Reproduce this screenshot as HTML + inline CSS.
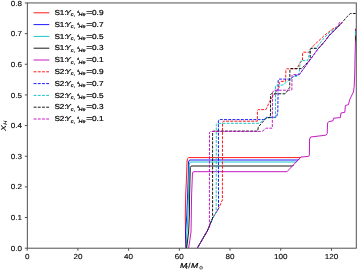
<!DOCTYPE html>
<html><head><meta charset="utf-8"><style>
html,body{margin:0;padding:0;background:#fff;width:357px;height:270px;overflow:hidden}
svg{display:block;will-change:transform}
.t{text-rendering:geometricPrecision;font-family:"Liberation Sans",sans-serif;font-size:7.3px;fill:#000}
</style></head><body>
<svg width="357" height="270" viewBox="0 0 357 270">
<defs><clipPath id="ax"><rect x="27.35" y="2.95" width="328.95" height="245.25"/></clipPath></defs>
<g clip-path="url(#ax)" fill="none" stroke-width="0.9" stroke-linejoin="round" stroke-linecap="butt">
<polyline stroke="#ff0000" points="186.0,248.5 185.5,235.0 185.3,215.0 185.7,195.0 186.6,175.0 187.0,162.0 187.5,158.6 188.6,157.6 300.6,157.6 301.6,156.6"/>
<polyline stroke="#0000ff" points="186.0,248.5 185.6,232.0 186.8,215.0 187.6,195.0 188.3,175.0 188.5,162.0 189.3,160.2 190.0,160.0 298.3,160.0 299.3,159.0"/>
<polyline stroke="#00bfbf" points="186.2,248.5 187.0,232.0 187.9,215.0 188.5,195.0 189.2,175.0 189.3,164.0 190.0,162.2 190.8,162.0 296.3,162.0 297.3,161.0"/>
<polyline stroke="#000000" points="186.6,248.5 188.6,232.0 189.4,215.0 189.6,195.0 190.1,175.0 190.3,167.5 191.0,166.2 191.8,166.0 292.5,166.0 293.5,165.0"/>
<polyline stroke="#bf00bf" points="188.6,248.5 191.0,232.0 191.3,215.0 191.6,195.0 192.4,175.0 192.5,173.0 193.2,171.9 194.0,171.7 287.0,171.7 300.3,157.6 301.5,157.0 308.5,156.4 309.4,155.0 309.6,139.0 310.6,137.0 325.8,135.2 327.2,133.5 327.6,123.0 328.8,121.6 333.0,120.8 333.5,118.2 340.4,117.6 341.0,113.0 344.8,112.3 345.4,105.5 348.5,104.6 349.7,99.6 353.4,92.0 354.2,86.5 354.7,75.0 355.1,55.0 355.4,45.0 355.5,40.8"/>
<line x1="355.45" y1="28.5" x2="355.45" y2="30.0" stroke="#ff0000"/>
<line x1="355.45" y1="30.0" x2="355.45" y2="31.4" stroke="#0000ff"/>
<line x1="355.45" y1="31.4" x2="355.45" y2="35.4" stroke="#00bfbf"/>
<line x1="355.45" y1="35.4" x2="355.45" y2="40.9" stroke="#000000"/>
<polyline stroke="#ff0000" stroke-dasharray="2.9 1.3" stroke-dashoffset="2.0" points="197.1,248.5 207.8,230.0 209.4,226.0 212.6,218.2 216.2,212.4 218.5,208.6 222.4,200.0 222.5,122.5 223.3,121.2 257.4,121.2 257.4,110.5 258.2,109.6 265.9,109.6 270.4,100.0 279.0,87.5 279.4,82.3 280.3,81.3 285.6,81.3 285.9,70.0 286.7,68.8 297.0,68.8 299.0,64.5 302.5,60.0 302.6,53.0 303.4,52.2 309.3,52.2 310.2,49.5 312.7,46.7 313.2,46.0 323.6,36.2 331.1,30.0 334.5,27.8 338.2,26.3 340.5,24.2"/>
<polyline stroke="#0000ff" stroke-dasharray="2.9 1.3" stroke-dashoffset="3.4" points="197.1,248.5 207.8,230.0 209.4,226.0 212.6,218.2 216.2,212.4 218.5,208.6 218.4,121.0 219.3,119.6 265.0,119.6 266.5,117.3 276.5,117.3 277.8,112.0 278.2,80.0 279.0,79.1 290.7,79.1 294.0,76.2 298.0,74.8 299.3,74.6 302.7,70.0 317.3,49.8 325.3,40.7 328.9,35.8 336.0,28.7 338.2,26.3 340.5,24.2"/>
<polyline stroke="#00bfbf" stroke-dasharray="2.9 1.3" stroke-dashoffset="3.0" points="197.1,248.5 207.8,230.0 209.4,226.0 212.6,218.2 216.2,212.4 216.3,124.5 217.2,123.3 259.8,123.3 265.8,117.7 275.5,117.7 275.6,86.0 276.4,85.1 283.0,85.0 291.1,78.3 294.0,76.2 297.7,76.2 299.3,72.2 300.0,64.0 300.3,61.4 301.0,60.6 307.7,60.6 310.4,49.2 311.2,48.3 316.6,48.3 317.3,46.5 320.9,42.0 328.0,33.6 333.3,29.6 338.2,26.3 340.5,24.2"/>
<polyline stroke="#000000" stroke-dasharray="2.9 1.3" stroke-dashoffset="1.2" points="197.1,248.5 207.8,230.0 209.4,226.0 212.6,218.2 212.6,132.5 213.4,131.1 257.7,131.1 258.3,127.0 265.4,118.9 267.2,117.6 270.4,117.6 270.6,94.6 271.3,93.8 285.3,93.8 289.7,87.5 289.9,69.4 290.6,68.6 301.6,68.6 309.3,60.6 310.2,59.0 310.3,49.2 311.1,48.3 318.6,48.3 325.3,40.7 328.9,35.8 336.0,28.7 338.2,26.3 339.3,25.8 347.3,16.4 350.4,13.5 357.0,13.5"/>
<polyline stroke="#bf00bf" stroke-dasharray="2.9 1.3" stroke-dashoffset="0.0" points="197.1,248.5 207.8,230.0 209.4,226.0 209.5,132.5 210.5,131.4 262.1,131.4 266.2,128.2 272.3,128.2 272.5,92.5 274.0,90.2 291.5,90.2 291.9,89.0 292.0,75.6 292.7,74.6 299.3,74.6 302.7,70.0 317.3,49.8 325.3,40.7 328.9,35.8 336.0,28.7 338.2,26.3 342.4,22.2"/>
<line x1="338.3" y1="24.6" x2="339.9" y2="22.1" stroke="#bf00bf" stroke-width="0.9"/>
</g>
<rect x="27.35" y="2.95" width="328.95" height="245.25" fill="none" stroke="#505050" stroke-width="1.0"/>
<path d="M24.85 248.20H27.35 M24.85 217.54H27.35 M24.85 186.89H27.35 M24.85 156.23H27.35 M24.85 125.57H27.35 M24.85 94.92H27.35 M24.85 64.26H27.35 M24.85 33.61H27.35 M24.85 2.95H27.35 M27.20 248.2V250.75 M77.91 248.2V250.75 M128.62 248.2V250.75 M179.33 248.2V250.75 M230.04 248.2V250.75 M280.75 248.2V250.75 M331.46 248.2V250.75" stroke="#505050" stroke-width="1.0" fill="none"/>
<text transform="translate(21.90,250.80) scale(1.11,1)" text-anchor="end" class="t" stroke="#000" stroke-width="0.1">0.0</text>
<text transform="translate(21.90,220.14) scale(1.11,1)" text-anchor="end" class="t" stroke="#000" stroke-width="0.1">0.1</text>
<text transform="translate(21.90,189.49) scale(1.11,1)" text-anchor="end" class="t" stroke="#000" stroke-width="0.1">0.2</text>
<text transform="translate(21.90,158.83) scale(1.11,1)" text-anchor="end" class="t" stroke="#000" stroke-width="0.1">0.3</text>
<text transform="translate(21.90,128.17) scale(1.11,1)" text-anchor="end" class="t" stroke="#000" stroke-width="0.1">0.4</text>
<text transform="translate(21.90,97.52) scale(1.11,1)" text-anchor="end" class="t" stroke="#000" stroke-width="0.1">0.5</text>
<text transform="translate(21.90,66.86) scale(1.11,1)" text-anchor="end" class="t" stroke="#000" stroke-width="0.1">0.6</text>
<text transform="translate(21.90,36.21) scale(1.11,1)" text-anchor="end" class="t" stroke="#000" stroke-width="0.1">0.7</text>
<text transform="translate(21.90,5.55) scale(1.11,1)" text-anchor="end" class="t" stroke="#000" stroke-width="0.1">0.8</text>
<text transform="translate(27.20,259.00) scale(1.11,1)" text-anchor="middle" class="t" stroke="#000" stroke-width="0.1">0</text>
<text transform="translate(77.91,259.00) scale(1.11,1)" text-anchor="middle" class="t" stroke="#000" stroke-width="0.1">20</text>
<text transform="translate(128.62,259.00) scale(1.11,1)" text-anchor="middle" class="t" stroke="#000" stroke-width="0.1">40</text>
<text transform="translate(179.33,259.00) scale(1.11,1)" text-anchor="middle" class="t" stroke="#000" stroke-width="0.1">60</text>
<text transform="translate(230.04,259.00) scale(1.11,1)" text-anchor="middle" class="t" stroke="#000" stroke-width="0.1">80</text>
<text transform="translate(280.75,259.00) scale(1.11,1)" text-anchor="middle" class="t" stroke="#000" stroke-width="0.1">100</text>
<text transform="translate(331.46,259.00) scale(1.11,1)" text-anchor="middle" class="t" stroke="#000" stroke-width="0.1">120</text>
<text transform="translate(179.90,268.00) scale(1.18,1)" text-anchor="start" class="t" stroke="#000" stroke-width="0.2" font-style="italic">M</text>
<text transform="translate(186.00,269.30) scale(1.12,1)" text-anchor="start" class="t" stroke="#000" stroke-width="0.15" font-style="italic" style="font-size:4.9px">t</text>
<text transform="translate(188.30,268.00) scale(1.12,1)" text-anchor="start" class="t" stroke="#000" stroke-width="0.15">/</text>
<text transform="translate(190.90,268.00) scale(1.18,1)" text-anchor="start" class="t" stroke="#000" stroke-width="0.2" font-style="italic">M</text>
<circle cx="201.1" cy="267.7" r="1.45" fill="none" stroke="#000" stroke-width="0.55"/><circle cx="201.1" cy="267.7" r="0.4" fill="#000"/>
<g transform="translate(6.0,131.0) rotate(-90)"><text transform="translate(0.00,0.00) scale(1.22,1)" text-anchor="start" class="t" stroke="#000" stroke-width="0.1" font-style="italic">X</text><text transform="translate(6.30,1.40) scale(1.12,1)" text-anchor="start" class="t" stroke="#000" stroke-width="0.1" font-style="italic" style="font-size:4.9px">H</text></g>
<line x1="33.6" y1="12.80" x2="49.3" y2="12.80" stroke="#ff0000" stroke-width="0.9"/>
<text transform="translate(54.40,15.00) scale(1.12,1)" text-anchor="start" class="t" stroke="#000" stroke-width="0.2">S1:</text>
<text transform="translate(65.20,15.00) scale(1.15,1)" text-anchor="start" class="t" stroke="#000" stroke-width="0.2" font-style="italic">Y</text>
<text transform="translate(70.70,16.30) scale(1.12,1)" text-anchor="start" class="t" stroke="#000" stroke-width="0.2" font-style="italic" style="font-size:4.9px">c</text>
<text transform="translate(73.40,16.30) scale(1.12,1)" text-anchor="start" class="t" stroke="#000" stroke-width="0.2" style="font-size:4.9px">,</text>
<text transform="translate(76.90,13.10) scale(1.12,1)" text-anchor="start" class="t" stroke="#000" stroke-width="0.2" style="font-size:3.4px">4</text>
<text transform="translate(78.60,16.30) scale(1.12,1)" text-anchor="start" class="t" stroke="#000" stroke-width="0.2" font-style="italic" style="font-size:4.9px">He</text>
<text transform="translate(86.30,15.00) scale(1.4,1)" text-anchor="start" class="t" stroke="#000" stroke-width="0.2">=</text>
<text transform="translate(92.00,15.00) scale(1.13,1)" text-anchor="start" class="t" stroke="#000" stroke-width="0.2">0.9</text>
<line x1="33.6" y1="24.60" x2="49.3" y2="24.60" stroke="#0000ff" stroke-width="0.9"/>
<text transform="translate(54.40,26.80) scale(1.12,1)" text-anchor="start" class="t" stroke="#000" stroke-width="0.2">S1:</text>
<text transform="translate(65.20,26.80) scale(1.15,1)" text-anchor="start" class="t" stroke="#000" stroke-width="0.2" font-style="italic">Y</text>
<text transform="translate(70.70,28.10) scale(1.12,1)" text-anchor="start" class="t" stroke="#000" stroke-width="0.2" font-style="italic" style="font-size:4.9px">c</text>
<text transform="translate(73.40,28.10) scale(1.12,1)" text-anchor="start" class="t" stroke="#000" stroke-width="0.2" style="font-size:4.9px">,</text>
<text transform="translate(76.90,24.90) scale(1.12,1)" text-anchor="start" class="t" stroke="#000" stroke-width="0.2" style="font-size:3.4px">4</text>
<text transform="translate(78.60,28.10) scale(1.12,1)" text-anchor="start" class="t" stroke="#000" stroke-width="0.2" font-style="italic" style="font-size:4.9px">He</text>
<text transform="translate(86.30,26.80) scale(1.4,1)" text-anchor="start" class="t" stroke="#000" stroke-width="0.2">=</text>
<text transform="translate(92.00,26.80) scale(1.13,1)" text-anchor="start" class="t" stroke="#000" stroke-width="0.2">0.7</text>
<line x1="33.6" y1="36.40" x2="49.3" y2="36.40" stroke="#00bfbf" stroke-width="0.9"/>
<text transform="translate(54.40,38.60) scale(1.12,1)" text-anchor="start" class="t" stroke="#000" stroke-width="0.2">S1:</text>
<text transform="translate(65.20,38.60) scale(1.15,1)" text-anchor="start" class="t" stroke="#000" stroke-width="0.2" font-style="italic">Y</text>
<text transform="translate(70.70,39.90) scale(1.12,1)" text-anchor="start" class="t" stroke="#000" stroke-width="0.2" font-style="italic" style="font-size:4.9px">c</text>
<text transform="translate(73.40,39.90) scale(1.12,1)" text-anchor="start" class="t" stroke="#000" stroke-width="0.2" style="font-size:4.9px">,</text>
<text transform="translate(76.90,36.70) scale(1.12,1)" text-anchor="start" class="t" stroke="#000" stroke-width="0.2" style="font-size:3.4px">4</text>
<text transform="translate(78.60,39.90) scale(1.12,1)" text-anchor="start" class="t" stroke="#000" stroke-width="0.2" font-style="italic" style="font-size:4.9px">He</text>
<text transform="translate(86.30,38.60) scale(1.4,1)" text-anchor="start" class="t" stroke="#000" stroke-width="0.2">=</text>
<text transform="translate(92.00,38.60) scale(1.13,1)" text-anchor="start" class="t" stroke="#000" stroke-width="0.2">0.5</text>
<line x1="33.6" y1="48.20" x2="49.3" y2="48.20" stroke="#000000" stroke-width="0.9"/>
<text transform="translate(54.40,50.40) scale(1.12,1)" text-anchor="start" class="t" stroke="#000" stroke-width="0.2">S1:</text>
<text transform="translate(65.20,50.40) scale(1.15,1)" text-anchor="start" class="t" stroke="#000" stroke-width="0.2" font-style="italic">Y</text>
<text transform="translate(70.70,51.70) scale(1.12,1)" text-anchor="start" class="t" stroke="#000" stroke-width="0.2" font-style="italic" style="font-size:4.9px">c</text>
<text transform="translate(73.40,51.70) scale(1.12,1)" text-anchor="start" class="t" stroke="#000" stroke-width="0.2" style="font-size:4.9px">,</text>
<text transform="translate(76.90,48.50) scale(1.12,1)" text-anchor="start" class="t" stroke="#000" stroke-width="0.2" style="font-size:3.4px">4</text>
<text transform="translate(78.60,51.70) scale(1.12,1)" text-anchor="start" class="t" stroke="#000" stroke-width="0.2" font-style="italic" style="font-size:4.9px">He</text>
<text transform="translate(86.30,50.40) scale(1.4,1)" text-anchor="start" class="t" stroke="#000" stroke-width="0.2">=</text>
<text transform="translate(92.00,50.40) scale(1.13,1)" text-anchor="start" class="t" stroke="#000" stroke-width="0.2">0.3</text>
<line x1="33.6" y1="60.00" x2="49.3" y2="60.00" stroke="#bf00bf" stroke-width="0.9"/>
<text transform="translate(54.40,62.20) scale(1.12,1)" text-anchor="start" class="t" stroke="#000" stroke-width="0.2">S1:</text>
<text transform="translate(65.20,62.20) scale(1.15,1)" text-anchor="start" class="t" stroke="#000" stroke-width="0.2" font-style="italic">Y</text>
<text transform="translate(70.70,63.50) scale(1.12,1)" text-anchor="start" class="t" stroke="#000" stroke-width="0.2" font-style="italic" style="font-size:4.9px">c</text>
<text transform="translate(73.40,63.50) scale(1.12,1)" text-anchor="start" class="t" stroke="#000" stroke-width="0.2" style="font-size:4.9px">,</text>
<text transform="translate(76.90,60.30) scale(1.12,1)" text-anchor="start" class="t" stroke="#000" stroke-width="0.2" style="font-size:3.4px">4</text>
<text transform="translate(78.60,63.50) scale(1.12,1)" text-anchor="start" class="t" stroke="#000" stroke-width="0.2" font-style="italic" style="font-size:4.9px">He</text>
<text transform="translate(86.30,62.20) scale(1.4,1)" text-anchor="start" class="t" stroke="#000" stroke-width="0.2">=</text>
<text transform="translate(92.00,62.20) scale(1.13,1)" text-anchor="start" class="t" stroke="#000" stroke-width="0.2">0.1</text>
<line x1="33.6" y1="71.80" x2="49.3" y2="71.80" stroke="#ff0000" stroke-width="0.9" stroke-dasharray="2.9 1.3"/>
<text transform="translate(54.40,74.00) scale(1.12,1)" text-anchor="start" class="t" stroke="#000" stroke-width="0.2">S2:</text>
<text transform="translate(65.20,74.00) scale(1.15,1)" text-anchor="start" class="t" stroke="#000" stroke-width="0.2" font-style="italic">Y</text>
<text transform="translate(70.70,75.30) scale(1.12,1)" text-anchor="start" class="t" stroke="#000" stroke-width="0.2" font-style="italic" style="font-size:4.9px">c</text>
<text transform="translate(73.40,75.30) scale(1.12,1)" text-anchor="start" class="t" stroke="#000" stroke-width="0.2" style="font-size:4.9px">,</text>
<text transform="translate(76.90,72.10) scale(1.12,1)" text-anchor="start" class="t" stroke="#000" stroke-width="0.2" style="font-size:3.4px">4</text>
<text transform="translate(78.60,75.30) scale(1.12,1)" text-anchor="start" class="t" stroke="#000" stroke-width="0.2" font-style="italic" style="font-size:4.9px">He</text>
<text transform="translate(86.30,74.00) scale(1.4,1)" text-anchor="start" class="t" stroke="#000" stroke-width="0.2">=</text>
<text transform="translate(92.00,74.00) scale(1.13,1)" text-anchor="start" class="t" stroke="#000" stroke-width="0.2">0.9</text>
<line x1="33.6" y1="83.60" x2="49.3" y2="83.60" stroke="#0000ff" stroke-width="0.9" stroke-dasharray="2.9 1.3"/>
<text transform="translate(54.40,85.80) scale(1.12,1)" text-anchor="start" class="t" stroke="#000" stroke-width="0.2">S2:</text>
<text transform="translate(65.20,85.80) scale(1.15,1)" text-anchor="start" class="t" stroke="#000" stroke-width="0.2" font-style="italic">Y</text>
<text transform="translate(70.70,87.10) scale(1.12,1)" text-anchor="start" class="t" stroke="#000" stroke-width="0.2" font-style="italic" style="font-size:4.9px">c</text>
<text transform="translate(73.40,87.10) scale(1.12,1)" text-anchor="start" class="t" stroke="#000" stroke-width="0.2" style="font-size:4.9px">,</text>
<text transform="translate(76.90,83.90) scale(1.12,1)" text-anchor="start" class="t" stroke="#000" stroke-width="0.2" style="font-size:3.4px">4</text>
<text transform="translate(78.60,87.10) scale(1.12,1)" text-anchor="start" class="t" stroke="#000" stroke-width="0.2" font-style="italic" style="font-size:4.9px">He</text>
<text transform="translate(86.30,85.80) scale(1.4,1)" text-anchor="start" class="t" stroke="#000" stroke-width="0.2">=</text>
<text transform="translate(92.00,85.80) scale(1.13,1)" text-anchor="start" class="t" stroke="#000" stroke-width="0.2">0.7</text>
<line x1="33.6" y1="95.40" x2="49.3" y2="95.40" stroke="#00bfbf" stroke-width="0.9" stroke-dasharray="2.9 1.3"/>
<text transform="translate(54.40,97.60) scale(1.12,1)" text-anchor="start" class="t" stroke="#000" stroke-width="0.2">S2:</text>
<text transform="translate(65.20,97.60) scale(1.15,1)" text-anchor="start" class="t" stroke="#000" stroke-width="0.2" font-style="italic">Y</text>
<text transform="translate(70.70,98.90) scale(1.12,1)" text-anchor="start" class="t" stroke="#000" stroke-width="0.2" font-style="italic" style="font-size:4.9px">c</text>
<text transform="translate(73.40,98.90) scale(1.12,1)" text-anchor="start" class="t" stroke="#000" stroke-width="0.2" style="font-size:4.9px">,</text>
<text transform="translate(76.90,95.70) scale(1.12,1)" text-anchor="start" class="t" stroke="#000" stroke-width="0.2" style="font-size:3.4px">4</text>
<text transform="translate(78.60,98.90) scale(1.12,1)" text-anchor="start" class="t" stroke="#000" stroke-width="0.2" font-style="italic" style="font-size:4.9px">He</text>
<text transform="translate(86.30,97.60) scale(1.4,1)" text-anchor="start" class="t" stroke="#000" stroke-width="0.2">=</text>
<text transform="translate(92.00,97.60) scale(1.13,1)" text-anchor="start" class="t" stroke="#000" stroke-width="0.2">0.5</text>
<line x1="33.6" y1="107.20" x2="49.3" y2="107.20" stroke="#000000" stroke-width="0.9" stroke-dasharray="2.9 1.3"/>
<text transform="translate(54.40,109.40) scale(1.12,1)" text-anchor="start" class="t" stroke="#000" stroke-width="0.2">S2:</text>
<text transform="translate(65.20,109.40) scale(1.15,1)" text-anchor="start" class="t" stroke="#000" stroke-width="0.2" font-style="italic">Y</text>
<text transform="translate(70.70,110.70) scale(1.12,1)" text-anchor="start" class="t" stroke="#000" stroke-width="0.2" font-style="italic" style="font-size:4.9px">c</text>
<text transform="translate(73.40,110.70) scale(1.12,1)" text-anchor="start" class="t" stroke="#000" stroke-width="0.2" style="font-size:4.9px">,</text>
<text transform="translate(76.90,107.50) scale(1.12,1)" text-anchor="start" class="t" stroke="#000" stroke-width="0.2" style="font-size:3.4px">4</text>
<text transform="translate(78.60,110.70) scale(1.12,1)" text-anchor="start" class="t" stroke="#000" stroke-width="0.2" font-style="italic" style="font-size:4.9px">He</text>
<text transform="translate(86.30,109.40) scale(1.4,1)" text-anchor="start" class="t" stroke="#000" stroke-width="0.2">=</text>
<text transform="translate(92.00,109.40) scale(1.13,1)" text-anchor="start" class="t" stroke="#000" stroke-width="0.2">0.3</text>
<line x1="33.6" y1="119.00" x2="49.3" y2="119.00" stroke="#bf00bf" stroke-width="0.9" stroke-dasharray="2.9 1.3"/>
<text transform="translate(54.40,121.20) scale(1.12,1)" text-anchor="start" class="t" stroke="#000" stroke-width="0.2">S2:</text>
<text transform="translate(65.20,121.20) scale(1.15,1)" text-anchor="start" class="t" stroke="#000" stroke-width="0.2" font-style="italic">Y</text>
<text transform="translate(70.70,122.50) scale(1.12,1)" text-anchor="start" class="t" stroke="#000" stroke-width="0.2" font-style="italic" style="font-size:4.9px">c</text>
<text transform="translate(73.40,122.50) scale(1.12,1)" text-anchor="start" class="t" stroke="#000" stroke-width="0.2" style="font-size:4.9px">,</text>
<text transform="translate(76.90,119.30) scale(1.12,1)" text-anchor="start" class="t" stroke="#000" stroke-width="0.2" style="font-size:3.4px">4</text>
<text transform="translate(78.60,122.50) scale(1.12,1)" text-anchor="start" class="t" stroke="#000" stroke-width="0.2" font-style="italic" style="font-size:4.9px">He</text>
<text transform="translate(86.30,121.20) scale(1.4,1)" text-anchor="start" class="t" stroke="#000" stroke-width="0.2">=</text>
<text transform="translate(92.00,121.20) scale(1.13,1)" text-anchor="start" class="t" stroke="#000" stroke-width="0.2">0.1</text>
</svg>
</body></html>
